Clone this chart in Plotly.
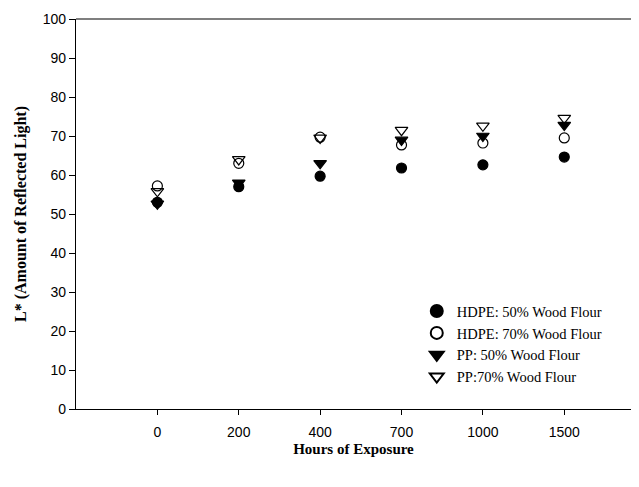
import plotly.graph_objects as go

hours = ["0", "200", "400", "700", "1000", "1500"]
hdpe_50 = [53.0, 57.0, 59.7, 61.8, 62.6, 64.6]
hdpe_70 = [57.2, 63.0, 69.7, 67.7, 68.2, 69.5]
pp_50 = [52.6, 58.0, 63.0, 69.0, 70.0, 72.8]
pp_70 = [55.8, 64.0, 69.5, 71.5, 72.6, 74.6]

series = [
    ("HDPE: 50% Wood Flour", hdpe_50, "circle", 10),
    ("HDPE: 70% Wood Flour", hdpe_70, "circle-open", 10),
    ("PP: 50% Wood Flour", pp_50, "triangle-down", 11),
    ("PP:70% Wood Flour", pp_70, "triangle-down-open", 11),
]

fig = go.Figure()
for name, vals, sym, sz in series:
    fig.add_trace(go.Scatter(
        x=hours, y=vals, mode="markers", name=name,
        marker=dict(symbol=sym, size=sz, color="black",
                    line=dict(color="black", width=1.2)),
    ))

# top frame line of the plot area
fig.add_shape(type="line", xref="paper", yref="paper", x0=0, x1=1, y0=1, y1=1,
              line=dict(color="black", width=1.2))

fig.update_layout(
    width=623, height=455,
    margin=dict(l=68, r=0, t=11, b=54),
    plot_bgcolor="white", paper_bgcolor="white",
    font=dict(family="Liberation Sans, Arial", size=14, color="black"),
    showlegend=True,
    legend=dict(
        x=0.614, y=0.292, xanchor="left", yanchor="top",
        font=dict(family="Liberation Serif, Times New Roman", size=14.5, color="black"),
        bgcolor="rgba(0,0,0,0)", tracegroupgap=0, itemsizing="constant",
    ),
    xaxis=dict(
        type="category", range=[-1.0, 5.82],
        showline=True, linecolor="black", linewidth=1.2,
        ticks="outside", ticklen=5, tickcolor="black", tickwidth=1,
        ticklabelstandoff=5,
        showgrid=False, zeroline=False,
        title=dict(text="<b>Hours of Exposure</b>",
                   font=dict(family="Liberation Serif, Times New Roman", size=15),
                   standoff=4),
    ),
    yaxis=dict(
        range=[0, 100], dtick=10,
        showline=True, linecolor="black", linewidth=1.2,
        ticks="outside", ticklen=6, tickcolor="black", tickwidth=1,
        showgrid=False, zeroline=False,
        title=dict(text="<b>L* (Amount of Reflected Light)</b>",
                   font=dict(family="Liberation Serif, Times New Roman", size=16),
                   standoff=12),
    ),
)

fig.write_html("out.html")
